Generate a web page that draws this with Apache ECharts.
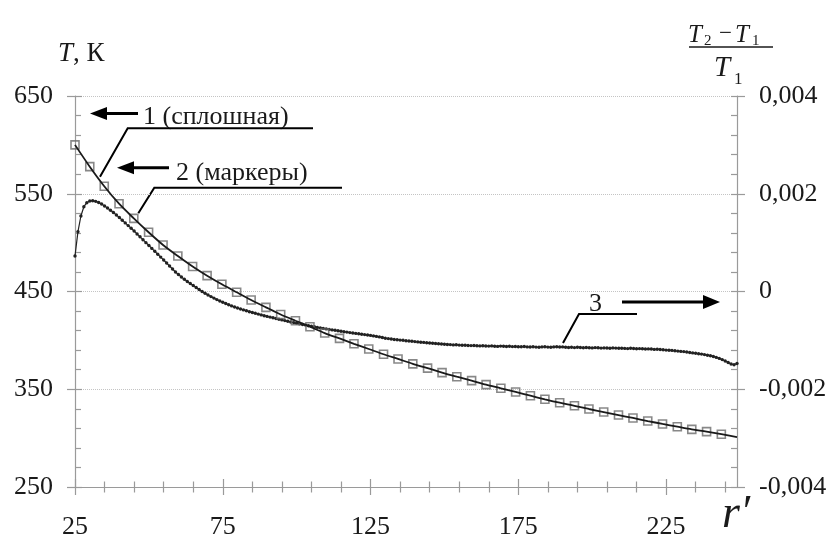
<!DOCTYPE html>
<html>
<head>
<meta charset="utf-8">
<script src="https://cdn.jsdelivr.net/npm/echarts@6/dist/echarts.min.js"></script>
<style>
html,body{margin:0;padding:0;background:#fff;}
#c{width:834px;height:540px;}
</style>
</head>
<body>
<div id="c"></div>
<script>
// ---- data ----
// curve 1 (solid line): r' and T, K
const r1 = [25,30,34.9,39.9,44.9,49.9,54.8,59.8,64.8,69.7,74.7,79.7,84.6,89.6,94.6,99.6,104.5,109.5,114.5,119.4,124.4,129.4,134.3,139.3,144.3,149.2,154.2,159.2,164.1,169.1,174.1,179.1,184,189,194,198.9,203.9,208.9,213.8,218.8,223.8,228.8,233.7,238.7,243.7,249];
const T1 = [600,577.7,557.7,539.8,524.8,510.6,497.6,486.3,475.6,466.2,457.4,449.2,441.3,433.8,426.5,420.1,414,407.5,402,396.5,391.2,385.8,381,376,371.6,367,362.8,358.8,354.7,351,347.2,343.4,339.7,336.2,333.1,329.8,326.7,323.6,320.6,317.5,314.5,311.7,309,306.6,304,301];
// curve 2 (square markers): r' and T, K
const r2 = [25,30,34.9,39.9,44.9,49.9,54.8,59.8,64.8,69.7,74.7,79.7,84.6,89.6,94.6,99.6,104.5,109.5,114.5,119.4,124.4,129.4,134.3,139.3,144.3,149.2,154.2,159.2,164.1,169.1,174.1,179.1,184,189,194,198.9,203.9,208.9,213.8,218.8,223.8,228.8,233.7,238.7,243.7];
const T2 = [600,577.7,557.7,539.8,524.8,510.6,497.6,486.3,475.6,466.2,457.4,449.2,441.3,433.8,426.5,420.1,414,407.5,402,396.5,391.2,385.8,381,376,371.6,367,362.8,358.8,354.7,351,347.2,343.4,339.7,336.2,333.1,329.8,326.7,323.6,320.6,317.5,314.5,311.7,309,306.6,304];
// curve 3 ((T2-T1)/T1, right axis), one value per unit of r' from 25 to 249
const R3_START = 25;
const v3 = [
0.000726,0.001224,0.001545,0.001735,0.001817,0.001852,0.001858,0.001845,0.001821,0.001790,
0.001749,0.001708,0.001663,0.001616,0.001565,0.001514,0.001459,0.001404,0.001348,0.001293,
0.001238,0.001178,0.001119,0.001060,0.001000,0.000941,0.000882,0.000822,0.000763,0.000704,
0.000644,0.000583,0.000522,0.000460,0.000399,0.000348,0.000297,0.000250,0.000205,0.000164,
0.000123,0.000082,0.000041,0.000000,-0.000037,-0.000072,-0.000104,-0.000135,-0.000166,-0.000194,
-0.000221,-0.000246,-0.000270,-0.000295,-0.000317,-0.000338,-0.000358,-0.000376,-0.000395,-0.000413,
-0.000430,-0.000446,-0.000462,-0.000479,-0.000495,-0.000509,-0.000524,-0.000538,-0.000552,-0.000567,
-0.000581,-0.000595,-0.000610,-0.000624,-0.000636,-0.000651,-0.000663,-0.000675,-0.000687,-0.000700,
-0.000712,-0.000722,-0.000735,-0.000745,-0.000755,-0.000765,-0.000775,-0.000786,-0.000794,-0.000804,
-0.000812,-0.000822,-0.000831,-0.000841,-0.000849,-0.000857,-0.000865,-0.000874,-0.000882,-0.000890,
-0.000898,-0.000908,-0.000919,-0.000929,-0.000941,-0.000958,-0.000964,-0.000972,-0.000982,-0.000986,
-0.000994,-0.000998,-0.001009,-0.001013,-0.001017,
-0.001025,-0.001031,-0.001038,-0.001041,-0.001048,-0.001053,-0.001058,-0.001065,-0.001069,-0.001074,-0.001080,-0.001083,-0.001086,-0.001093,-0.001091,
-0.001097,-0.001101,-0.001099,-0.001105,-0.001107,-0.001105,-0.001111,-0.001113,-0.001109,-0.001115,
-0.001117,-0.001113,-0.001119,-0.001123,-0.001117,-0.001121,-0.001125,-0.001121,-0.001127,-0.001125,
-0.001129,-0.001131,-0.001125,-0.001133,-0.001136,-0.001131,-0.001138,-0.001142,-0.001133,-0.001131,
-0.001138,-0.001140,-0.001133,-0.001129,-0.001136,-0.001133,-0.001140,-0.001146,-0.001142,-0.001148,
-0.001142,-0.001146,-0.001152,-0.001146,-0.001150,-0.001154,-0.001148,-0.001152,-0.001158,-0.001154,
-0.001156,-0.001160,-0.001154,-0.001158,-0.001162,-0.001160,-0.001164,-0.001168,-0.001162,-0.001166,
-0.001170,-0.001168,-0.001172,-0.001178,-0.001174,-0.001178,-0.001185,-0.001181,-0.001187,-0.001193,
-0.001199,-0.001201,-0.001205,-0.001213,-0.001219,-0.001226,-0.001230,-0.001238,-0.001248,-0.001256,
-0.001262,-0.001273,-0.001281,-0.001291,-0.001303,-0.001316,-0.001330,-0.001348,-0.001369,-0.001393,
-0.001422,-0.001453,-0.001483,-0.001500,-0.001473
];
// ticks
const xMajor = [25,75,125,175,225];
const xMinor = [35,45,55,65,85,95,105,115,135,145,155,165,185,195,205,215,235,245];
const yLeftMajor = [250,350,450,550,650];
const yLeftMinor = [270,290,310,330,370,390,410,430,470,490,510,530,570,590,610,630];
const yRightMajor = [-0.004,-0.002,0,0.002,0.004];
const annotations = ['1 (сплошная)', '2 (маркеры)', '3'];

// ---- chart ----
const FF = "'Liberation Serif','Times New Roman',serif";
const AX = '#9a9a9a';
const TXT = '#1a1a1a';
const X_MIN = 25, X_MAX = 249;

const d1 = r1.map((r, i) => [r, T1[i]]);
const d2 = r2.map((r, i) => [r, T2[i]]);
const d3 = v3.map((v, i) => [R3_START + i, v]);

function xAx(extra) {
  return Object.assign({
    type: 'value', min: X_MIN, max: X_MAX, position: 'bottom',
    axisLine: { show: false, onZero: false },
    axisTick: { show: false }, axisLabel: { show: false },
    splitLine: { show: false }, minorTick: { show: false }
  }, extra);
}
function yAx(extra) {
  return Object.assign({
    type: 'value', min: 250, max: 650, position: 'left',
    axisLine: { show: false, onZero: false },
    axisTick: { show: false }, axisLabel: { show: false },
    splitLine: { show: false }, minorTick: { show: false }
  }, extra);
}

const option = {
  backgroundColor: '#fff',
  animation: false,
  grid: { left: 75, right: 97, top: 96, bottom: 53, containLabel: false },
  xAxis: [
    xAx({
      axisLine: { show: true, onZero: false, lineStyle: { color: AX, width: 1.2 } },
      axisTick: { show: false, customValues: xMajor },
      axisLabel: { show: true, customValues: xMajor, margin: 27, color: TXT, fontFamily: FF, fontSize: 26 }
    }),
    xAx({ offset: -8, axisTick: { show: true, customValues: xMajor, length: 16, lineStyle: { color: AX, width: 1.2 } } }),
    xAx({ offset: -5.5, axisTick: { show: true, customValues: xMinor, length: 11, lineStyle: { color: AX, width: 1.2 } } })
  ],
  yAxis: [
    yAx({
      axisLine: { show: true, onZero: false, lineStyle: { color: AX, width: 1.2 } },
      axisTick: { show: false, customValues: yLeftMajor },
      axisLabel: { show: true, customValues: yLeftMajor, margin: 22, color: TXT, fontFamily: FF, fontSize: 26 },
      splitLine: { show: true, lineStyle: { color: '#c4c4c4', type: 'dotted', width: 1 } }
    }),
    yAx({ offset: -7, axisTick: { show: true, customValues: yLeftMajor, length: 15, lineStyle: { color: AX, width: 1.2 } } }),
    yAx({ axisTick: { show: true, inside: true, customValues: yLeftMinor, length: 6, lineStyle: { color: AX, width: 1.2 } } }),
    yAx({
      min: -0.004, max: 0.004, position: 'right',
      axisLine: { show: true, onZero: false, lineStyle: { color: AX, width: 1.2 } },
      axisTick: { show: false, customValues: yRightMajor },
      axisLabel: {
        show: true, customValues: yRightMajor, margin: 22, color: TXT, fontFamily: FF, fontSize: 26,
        formatter: v => Math.abs(v) < 1e-9 ? '0' : v.toFixed(3).replace('.', ',')
      }
    }),
    yAx({ position: 'right', offset: -6, axisTick: { show: true, customValues: yLeftMajor, length: 14, lineStyle: { color: AX, width: 1.2 } } }),
    yAx({ position: 'right', axisTick: { show: true, inside: true, customValues: yLeftMinor, length: 6, lineStyle: { color: AX, width: 1.2 } } })
  ],
  series: [
    {
      name: '3', type: 'line', xAxisIndex: 0, yAxisIndex: 3, data: d3,
      symbol: 'circle', symbolSize: 3.4, showSymbol: true,
      lineStyle: { color: '#222', width: 1.2 }, itemStyle: { color: '#222' }, z: 3
    },
    {
      name: '2', type: 'scatter', xAxisIndex: 0, yAxisIndex: 0, data: d2,
      symbol: 'rect', symbolSize: 8,
      itemStyle: { color: 'rgba(255,255,255,0)', borderColor: '#6a6a6a', borderWidth: 1.6 }, z: 4
    },
    {
      name: '1', type: 'line', xAxisIndex: 0, yAxisIndex: 0, data: d1,
      showSymbol: false, smooth: 0.3,
      lineStyle: { color: '#1a1a1a', width: 1.8 }, z: 5
    }
  ],
  graphic: [
    // axis titles
    { type: 'text', x: 58, y: 54, style: { text: '{i|T}{n|, К}', align: 'left', verticalAlign: 'middle',
      rich: { i: { fontStyle: 'italic', fontSize: 27, fontFamily: FF, fill: TXT, color: TXT }, n: { fontSize: 27, fontFamily: FF, fill: TXT, color: TXT } } } },
    { type: 'text', x: 722, y: 515, style: { text: 'r′', align: 'left', verticalAlign: 'middle', font: 'italic 46px ' + FF, fill: TXT } },
    // fraction (T2 - T1)/T1
    { type: 'text', x: 688, y: 35, style: { text: 'T', align: 'left', verticalAlign: 'middle', font: 'italic 25px ' + FF, fill: TXT } },
    { type: 'text', x: 704, y: 41, style: { text: '2', align: 'left', verticalAlign: 'middle', font: '15px ' + FF, fill: TXT } },
    { type: 'text', x: 719, y: 34, style: { text: '−', align: 'left', verticalAlign: 'middle', font: '23px ' + FF, fill: TXT } },
    { type: 'text', x: 735, y: 35, style: { text: 'T', align: 'left', verticalAlign: 'middle', font: 'italic 25px ' + FF, fill: TXT } },
    { type: 'text', x: 752, y: 41, style: { text: '1', align: 'left', verticalAlign: 'middle', font: '15px ' + FF, fill: TXT } },
    { type: 'line', shape: { x1: 689, y1: 47, x2: 773, y2: 47 }, style: { stroke: TXT, lineWidth: 1.3 } },
    { type: 'text', x: 714, y: 68, style: { text: 'T', align: 'left', verticalAlign: 'middle', font: 'italic 29px ' + FF, fill: TXT } },
    { type: 'text', x: 734, y: 80, style: { text: '1', align: 'left', verticalAlign: 'middle', font: '17px ' + FF, fill: TXT } },
    // annotation 1
    { type: 'text', x: 143, y: 117, style: { text: annotations[0], align: 'left', verticalAlign: 'middle', font: '26px ' + FF, fill: TXT } },
    { type: 'line', shape: { x1: 105, y1: 113.5, x2: 138, y2: 113.5 }, style: { stroke: '#000', lineWidth: 3 } },
    { type: 'polygon', shape: { points: [[90, 113.5], [107, 107], [107, 120]] }, style: { fill: '#000' } },
    { type: 'polyline', shape: { points: [[100, 176.7], [127.7, 128.3], [313, 128.3]] }, style: { stroke: '#000', lineWidth: 2, fill: null } },
    // annotation 2
    { type: 'text', x: 176, y: 173, style: { text: annotations[1], align: 'left', verticalAlign: 'middle', font: '26px ' + FF, fill: TXT } },
    { type: 'line', shape: { x1: 131, y1: 167.7, x2: 169, y2: 167.7 }, style: { stroke: '#000', lineWidth: 3 } },
    { type: 'polygon', shape: { points: [[117, 167.7], [134, 161.2], [134, 174.2]] }, style: { fill: '#000' } },
    { type: 'polyline', shape: { points: [[138.3, 213.3], [154.3, 187.7], [342, 187.7]] }, style: { stroke: '#000', lineWidth: 2, fill: null } },
    // annotation 3
    { type: 'text', x: 589, y: 304, style: { text: annotations[2], align: 'left', verticalAlign: 'middle', font: '26px ' + FF, fill: TXT } },
    { type: 'line', shape: { x1: 622, y1: 302, x2: 706, y2: 302 }, style: { stroke: '#000', lineWidth: 3 } },
    { type: 'polygon', shape: { points: [[720, 302], [703, 295], [703, 309]] }, style: { fill: '#000' } },
    { type: 'polyline', shape: { points: [[563, 343], [579, 314], [637, 314]] }, style: { stroke: '#000', lineWidth: 2, fill: null } }
  ]
};

const chart = echarts.init(document.getElementById('c'), null, { renderer: 'canvas', width: 834, height: 540 });
chart.setOption(option);
</script>
</body>
</html>
